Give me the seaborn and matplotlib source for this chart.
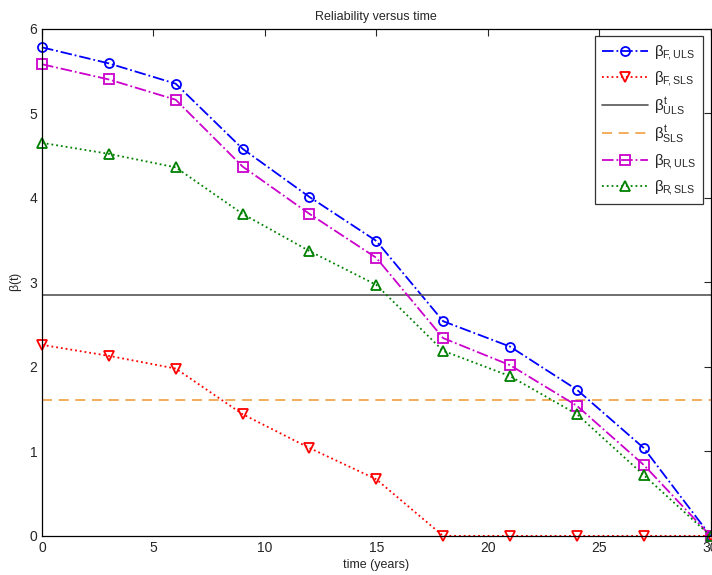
import numpy as np
import pandas as pd
import seaborn as sns
import matplotlib
matplotlib.use("Agg")
import matplotlib.pyplot as plt

# data
time = [0, 3, 6, 9, 12, 15, 18, 21, 24, 27, 30]
beta_F_ULS = [5.78, 5.59, 5.35, 4.58, 4.01, 3.49, 2.54, 2.24, 1.73, 1.04, 0.0]
beta_F_SLS = [2.26, 2.13, 1.98, 1.44, 1.04, 0.67, 0.0, 0.0, 0.0, 0.0, 0.0]
beta_R_ULS = [5.58, 5.40, 5.16, 4.37, 3.81, 3.29, 2.34, 2.02, 1.54, 0.84, 0.0]
beta_R_SLS = [4.65, 4.52, 4.36, 3.81, 3.37, 2.97, 2.19, 1.89, 1.44, 0.72, 0.0]
target_ULS = 2.85
target_SLS = 1.61

sns.set_style("white")
plt.rcParams['font.family'] = ['Liberation Sans', 'DejaVu Sans']
plt.rcParams['mathtext.fontset'] = 'custom'
plt.rcParams['mathtext.rm'] = 'Liberation Sans'
plt.rcParams['mathtext.it'] = 'Liberation Sans'

fig = plt.figure(figsize=(7.12, 5.75), dpi=100)
ax = fig.add_axes([0.059, 0.068, 0.939, 0.882])

df = pd.DataFrame({'time': time, 'F_ULS': beta_F_ULS, 'F_SLS': beta_F_SLS,
                   'R_ULS': beta_R_ULS, 'R_SLS': beta_R_SLS})

common = dict(ax=ax, markerfacecolor='none', markeredgewidth=1.3, lw=1.3, clip_on=False)
sns.lineplot(data=df, x='time', y='F_ULS', color='blue', linestyle='-.',
             marker='o', markersize=6.5, markeredgecolor='blue',
             label=r'$\beta_{F\!,ULS}$', **common)
sns.lineplot(data=df, x='time', y='F_SLS', color='red', linestyle=':',
             marker='v', markersize=7.5, markeredgecolor='red',
             label=r'$\beta_{F\!,SLS}$', **common)
ax.axhline(target_ULS, color='#555555', lw=1.2, label=r'$\beta^t_{ULS}$')
ax.axhline(target_SLS, color='#f0a040', lw=1.2, linestyle=(0, (6, 4)), label=r'$\beta^t_{SLS}$')
sns.lineplot(data=df, x='time', y='R_ULS', color='#cc00cc', linestyle='-.',
             marker='s', markersize=7.5, markeredgecolor='#cc00cc',
             label=r'$\beta_{R\!,ULS}$', **common)
sns.lineplot(data=df, x='time', y='R_SLS', color='green', linestyle=':',
             marker='^', markersize=7.5, markeredgecolor='green',
             label=r'$\beta_{R\!,SLS}$', **common)

ax.set_xlim(0, 30)
ax.set_ylim(0, 6)
ax.set_xticks(range(0, 31, 5))
ax.set_yticks(range(0, 7))
ax.tick_params(direction='in', top=True, right=True, labelsize=10, length=5, width=0.8)
for s in ax.spines.values():
    s.set_linewidth(0.9)
    s.set_color('black')
ax.set_xlabel('time (years)', fontsize=9, labelpad=3)
ax.set_ylabel(r'$\beta$(t)', fontsize=9, labelpad=4)
ax.set_title('Reliability versus time', fontsize=9, pad=6)

leg = ax.legend(loc='upper right', fontsize=11, frameon=True, fancybox=False,
                edgecolor='black', handlelength=3.0, borderaxespad=0.5,
                labelspacing=0.45, handletextpad=0.4, borderpad=0.45)
leg.get_frame().set_linewidth(0.9)

fig.savefig('out.png', dpi=100)
